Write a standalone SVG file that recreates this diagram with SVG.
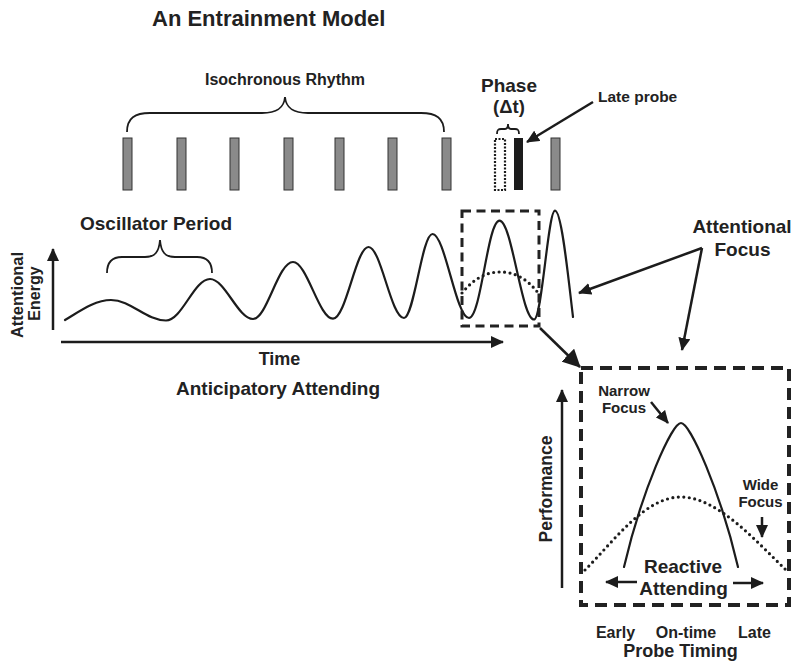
<svg xmlns="http://www.w3.org/2000/svg" width="795" height="665" viewBox="0 0 795 665">
<defs>
<style>
text{font-family:"Liberation Sans",Arial,Helvetica,sans-serif;font-weight:bold;fill:#222}
.m{text-anchor:middle}
.bar{fill:#8a8a8a;stroke:#333;stroke-width:1}
.ln{fill:none;stroke:#1c1c1c;stroke-width:2.2;stroke-linecap:round}
.dot{fill:none;stroke:#1c1c1c;stroke-width:3.2;stroke-dasharray:0 5.5;stroke-linecap:round}
.brace{fill:none;stroke:#1c1c1c;stroke-width:1.8}
.arr{fill:none;stroke:#1c1c1c;stroke-width:2.5}
</style>
<marker id="ah" markerUnits="userSpaceOnUse" markerWidth="14" markerHeight="12" refX="12" refY="6" orient="auto">
<path d="M0,0 L13,6 L0,12 Z" fill="#1c1c1c"/>
</marker>
<marker id="ahb" markerUnits="userSpaceOnUse" markerWidth="20" markerHeight="18" refX="17" refY="9" orient="auto">
<path d="M0,0 L18,9 L0,18 Z" fill="#1c1c1c"/>
</marker>
</defs>
<rect width="795" height="665" fill="#fff"/>

<g id="title"><text x="152" y="26" font-size="22">An Entrainment Model</text></g>

<g id="rhythm">
<text class="m" x="285" y="85" font-size="16">Isochronous Rhythm</text>
<path class="brace" d="M127,132 C127,118 135,113 150,113 L262,113 C277,113 284,108 285,97 C286,108 293,113 308,113 L421,113 C436,113 444,118 444,132"/>
<rect class="bar" x="123" y="138" width="9" height="52"/>
<rect class="bar" x="177" y="138" width="9" height="52"/>
<rect class="bar" x="230" y="138" width="9" height="52"/>
<rect class="bar" x="284" y="138" width="9" height="52"/>
<rect class="bar" x="335" y="138" width="9" height="52"/>
<rect class="bar" x="388" y="138" width="9" height="52"/>
<rect class="bar" x="442" y="138" width="9" height="52"/>
<rect x="495" y="139" width="10" height="51" fill="#fff" stroke="#1c1c1c" stroke-width="2.2" stroke-dasharray="2 1.5"/>
<rect x="514" y="138" width="9" height="52" fill="#1c1c1c"/>
<rect class="bar" x="551" y="138" width="9" height="52"/>
</g>

<g id="phase">
<text class="m" x="509" y="92" font-size="19">Phase</text>
<text class="m" x="509" y="113" font-size="18.5">(Δt)</text>
<path class="brace" d="M497,134 C497,130 498,129 501,129 L505,129 C507,129 508,127 508,124 C508,127 509,129 511,129 L515,129 C518,129 519,130 519,134"/>
</g>

<g id="late-probe"><text x="598" y="102" font-size="15.5">Late probe</text></g>

<g id="oscillator">
<text x="80" y="230" font-size="19">Oscillator Period</text>
<path class="brace" d="M107,273 C107,262 112,257 122,257 L145,257 C155,257 159,252 160,240 C161,252 165,257 175,257 L197,257 C207,257 212,262 212,273"/>
<path class="ln" d="M65,320 C80,311 95,300 111,300 C131,300 146,320.5 166,320.5 C182,320.5 194,279 210,279 C225,279 238,319 253,319 C267,319 278,262 293,262 C307,262 319,318.7 333,318.7 C346,318.7 356,247 368.5,247 C381,247 391,318 404,318 C414,318 422,234 432.5,234 C445,234 456,318 469,318 C481,318 487.5,220.7 499.5,220.7 C512,220.7 521.5,319.5 534,319.5 C542,319.5 548,210.7 555,210.7 C562,210.7 569,285 573,317"/>
</g>

<g id="energy-axis">
<text class="m" transform="translate(22.5,295) rotate(-90)" font-size="16.5">Attentional</text>
<text class="m" transform="translate(39.5,293.5) rotate(-90)" font-size="16">Energy</text>
</g>

<g id="focus-box">
<rect x="462" y="211" width="77" height="115" fill="none" stroke="#222" stroke-width="3" stroke-dasharray="9 5.5"/>
<path class="dot" d="M462,293 C475,277 488,272 500,272 C513,272 526,277 539,294"/>
</g>

<g id="time-label">
<text class="m" x="279.5" y="365" font-size="18">Time</text>
<text x="176" y="395" font-size="19">Anticipatory Attending</text>
</g>

<g id="attentional-focus">
<text class="m" x="742" y="233" font-size="19">Attentional</text>
<text class="m" x="742.5" y="256" font-size="19">Focus</text>
</g>

<g id="performance-box">
<rect x="581" y="368" width="208" height="237" fill="none" stroke="#222" stroke-width="4" stroke-dasharray="12 7"/>
<text class="m" transform="translate(551.5,489) rotate(-90)" font-size="17.5">Performance</text>
<path class="ln" d="M624,567 C642,490 672,423 681,423 C690,423 720,490 738,567"/>
<path class="dot" d="M585,570 C615,540 645,497 681,497 C717,497 755,540 786,570"/>
<text class="m" x="624" y="396" font-size="15">Narrow</text>
<text class="m" x="624" y="413" font-size="15">Focus</text>
<text class="m" x="760.5" y="490" font-size="15">Wide</text>
<text class="m" x="760.5" y="507" font-size="15">Focus</text>
<text class="m" x="683" y="573" font-size="19">Reactive</text>
<text class="m" x="683.5" y="595" font-size="19">Attending</text>
</g>

<g id="probe-timing">
<text class="m" x="615.5" y="638" font-size="16">Early</text>
<text class="m" x="686" y="638" font-size="16">On-time</text>
<text class="m" x="754.5" y="638" font-size="16">Late</text>
<text class="m" x="680.5" y="657" font-size="18">Probe Timing</text>
</g>

<g id="connectors">
<line class="arr" x1="53" y1="330" x2="53" y2="249" marker-end="url(#ah)"/>
<line class="arr" x1="61" y1="342" x2="503" y2="342" stroke-width="3" marker-end="url(#ah)"/>
<line class="arr" x1="593" y1="102" x2="527" y2="142" stroke-width="3" marker-end="url(#ah)"/>
<line class="arr" x1="540" y1="328" x2="580" y2="367" stroke-width="5.5" marker-end="url(#ahb)"/>
<line class="arr" x1="702" y1="248" x2="579" y2="293" marker-end="url(#ah)"/>
<line class="arr" x1="702" y1="248" x2="682" y2="350" marker-end="url(#ah)"/>
<line class="arr" x1="562" y1="588" x2="562" y2="390" marker-end="url(#ah)"/>
<line class="arr" x1="651" y1="402" x2="668" y2="423" stroke-width="2" marker-end="url(#ah)"/>
<line class="arr" x1="762" y1="517" x2="762" y2="537" stroke-width="2" marker-end="url(#ah)"/>
<line class="arr" x1="637" y1="582" x2="606" y2="582" stroke-width="4" marker-end="url(#ah)"/>
<line class="arr" x1="733" y1="583" x2="763" y2="583" stroke-width="4" marker-end="url(#ah)"/>
</g>
</svg>
